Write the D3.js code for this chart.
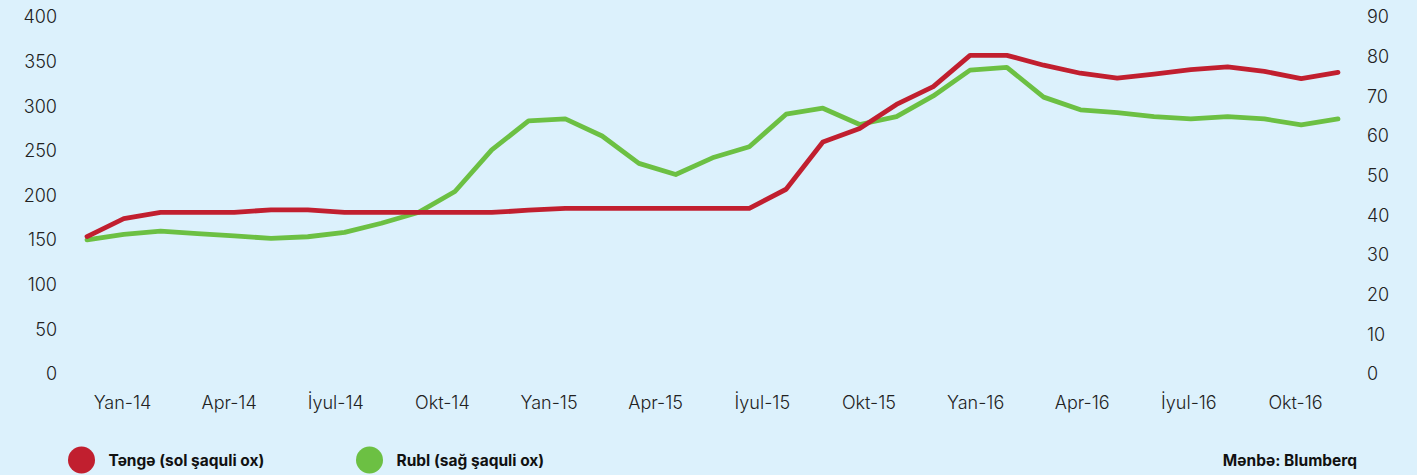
<!DOCTYPE html>
<meta charset="utf-8">
<head>
    <title>Təngə və Rubl</title>
    <script src="https://d3js.org/d3.v7.min.js"></script>
    <style>
        body { margin: 0; background: #dcf1fc; }
        svg { display: block; font-family: 'Inter', 'Open Sans', sans-serif; }
        .tick-label { font-family: 'Inter', sans-serif; font-size: 18px; font-weight: 300; fill: #222; }
        .legend { font-family: 'Inter', sans-serif; font-size: 15.5px; font-weight: 700; fill: #111; }
        .line { fill: none; stroke-width: 4.8; stroke-linejoin: round; stroke-linecap: round; }
    </style>
</head>
<body>
<svg width="1417" height="475"></svg>
<script>
    // Monthly averages, Yan-14 .. Noy-16
    const months = ['Yan-14', 'Fev-14', 'Mar-14', 'Apr-14', 'May-14', 'İyun-14', 'İyul-14', 'Avq-14', 'Sen-14', 'Okt-14', 'Noy-14', 'Dek-14',
        'Yan-15', 'Fev-15', 'Mar-15', 'Apr-15', 'May-15', 'İyun-15', 'İyul-15', 'Avq-15', 'Sen-15', 'Okt-15', 'Noy-15', 'Dek-15',
        'Yan-16', 'Fev-16', 'Mar-16', 'Apr-16', 'May-16', 'İyun-16', 'İyul-16', 'Avq-16', 'Sen-16', 'Okt-16', 'Noy-16'];

    const tenge = [154, 174, 181, 181, 181, 184, 184, 181, 181, 181, 181, 181,
        183.5, 185.5, 185.5, 185.5, 185.5, 185.5, 185.5, 207, 260, 275, 302, 322,
        357, 357, 346, 337, 331.5, 336, 341, 344, 339, 331, 338];

    const rubl = [33.8, 35.2, 36.0, 35.4, 34.8, 34.2, 34.6, 35.7, 38.0, 40.7, 46.0, 56.5,
        63.8, 64.3, 60.0, 53.1, 50.3, 54.5, 57.3, 65.5, 67.0, 62.9, 64.9, 70.1,
        76.6, 77.3, 69.8, 66.6, 65.9, 64.9, 64.3, 64.9, 64.3, 62.8, 64.3];

    const xLabels = ['Yan-14', 'Apr-14', 'İyul-14', 'Okt-14', 'Yan-15', 'Apr-15', 'İyul-15', 'Okt-15', 'Yan-16', 'Apr-16', 'İyul-16', 'Okt-16'];
    const leftTicks = [0, 50, 100, 150, 200, 250, 300, 350, 400];
    const rightTicks = [0, 10, 20, 30, 40, 50, 60, 70, 80, 90];

    const RED = '#c11f2f';
    const GREEN = '#6cc043';

    const svg = d3.select('svg');

    const x = d3.scalePoint().domain(months).range([87, 1338]);
    const yL = d3.scaleLinear().domain([0, 400]).range([374, 17]);
    const yR = d3.scaleLinear().domain([0, 90]).range([374, 17]);
    // the month captions sit on their own row, evenly spread
    const xLab = d3.scalePoint().domain(xLabels).range([122, 1295]);

    const leftAxis = d3.axisLeft(yL).tickValues(leftTicks).tickSize(0).tickPadding(0);
    svg.append('g')
        .attr('transform', 'translate(57,0)')
        .call(leftAxis)
        .call(g => g.select('.domain').remove())
        .selectAll('text').attr('class', 'tick-label');

    const rightAxis = d3.axisRight(yR).tickValues(rightTicks).tickSize(0).tickPadding(0);
    svg.append('g')
        .attr('transform', 'translate(1367,0)')
        .call(rightAxis)
        .call(g => g.select('.domain').remove())
        .selectAll('text').attr('class', 'tick-label');

    const bottomAxis = d3.axisBottom(xLab).tickSize(0).tickPadding(0);
    svg.append('g')
        .attr('transform', 'translate(0,396)')
        .call(bottomAxis)
        .call(g => g.select('.domain').remove())
        .selectAll('text').attr('class', 'tick-label');

    svg.selectAll('g').attr('font-family', null).attr('font-size', null);
    svg.selectAll('.tick text').attr('fill', null);

    const lineL = d3.line().x((d, i) => x(months[i])).y(d => yL(d));
    const lineR = d3.line().x((d, i) => x(months[i])).y(d => yR(d));

    svg.append('path').datum(rubl).attr('class', 'line').attr('stroke', GREEN).attr('d', lineR);
    svg.append('path').datum(tenge).attr('class', 'line').attr('stroke', RED).attr('d', lineL);

    // legend
    const legend = [
        {name: 'Təngə (sol şaquli ox)', color: RED, x: 81.5},
        {name: 'Rubl (sağ şaquli ox)', color: GREEN, x: 369.5}
    ];
    const lg = svg.selectAll('.lg').data(legend).enter().append('g')
        .attr('transform', d => `translate(${d.x},460)`);
    lg.append('circle').attr('r', 13.5).attr('fill', d => d.color);
    lg.append('text').attr('class', 'legend').attr('x', 27).attr('y', 5.5).text(d => d.name);

    svg.append('text')
        .attr('class', 'legend')
        .attr('x', 1357)
        .attr('y', 465.5)
        .attr('text-anchor', 'end')
        .text('Mənbə: Blumberq');
</script>
</body>
